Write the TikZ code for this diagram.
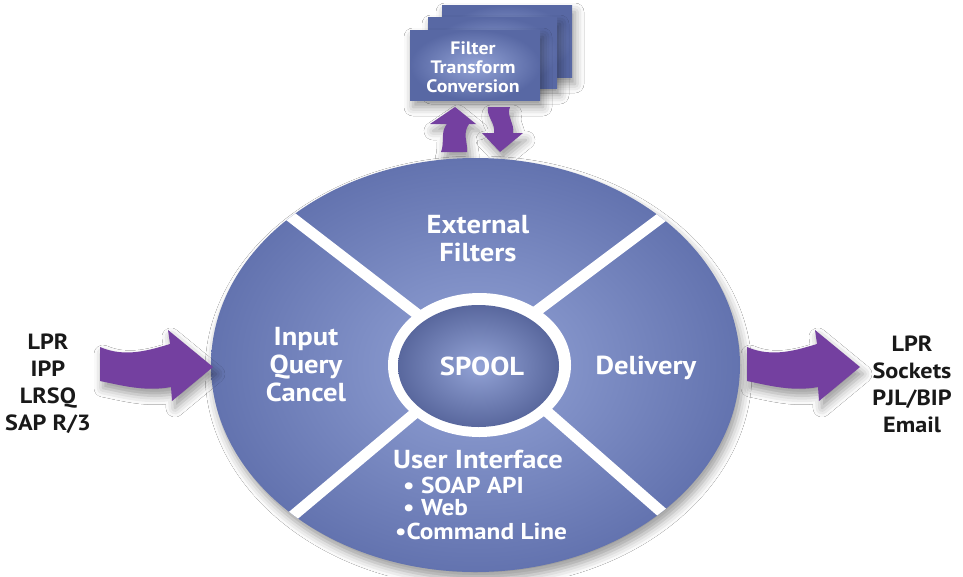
\documentclass[tikz,border=0pt]{standalone}
\usepackage{fontspec}
\setmainfont{PT Sans}[FakeStretch=1.1]
\usetikzlibrary{shadows.blur}
\definecolor{spoollight}{HTML}{93A3D6}
\definecolor{spooldark}{HTML}{6373AF}
\definecolor{boxdark}{HTML}{5868A4}
\definecolor{arrowpurple}{HTML}{7440A0}
\tikzset{
	wheel/.style={font=\bfseries\fontsize{26}{28}\selectfont, text=white, align=center, inner sep=0pt},
	bullet/.style={font=\bfseries\fontsize{23}{23}\selectfont, text=white, anchor=west, inner sep=0pt},
	proto/.style={font=\bfseries\fontsize{22}{27}\selectfont, text=black!90, align=center, inner sep=0pt},
	boxtext/.style={font=\bfseries\fontsize{18}{19}\selectfont, text=white, align=center, inner sep=0pt},
	spoke/.style={line width=11pt, draw=white},
	softshadow/.style={blur shadow={shadow xshift=3pt, shadow yshift=-7pt, shadow blur radius=9pt, shadow opacity=40}},
	filterbox/.style={inner color=spoollight, outer color=boxdark, softshadow},
}
\def\fatarrow(#1){\fill[arrowpurple, softshadow, shift={(#1,0)}] (100,347) .. controls (125,358) and (150,350) .. (170,344) -- (168,330) -- (213,367) -- (172,401) -- (171,387) .. controls (145,392) and (120,385) .. (100,381) -- cycle;}

\begin{document}
\begin{tikzpicture}[x=1pt, y=-1pt]
		%%%%% START %%%%%
		\useasboundingbox[fill=white] (0,0) rectangle (963,576);
		
		% filter stack
		\shade[filterbox] (442,5) rectangle (572,77);
		\shade[filterbox] (428,17) rectangle (557,88);
		\shade[filterbox] (410,30) rectangle (540,100);
		\node[boxtext] (filt) at (473,67) {Filter\\Transform\\Conversion};
		
		\fill[arrowpurple, softshadow] (455,107) -- (476,124) -- (469,124) .. controls (462,134) and (468,142) .. (467,152) -- (441,152) .. controls (445,142) and (440,132) .. (447,124) -- (430,124) -- cycle;
		\fill[arrowpurple, softshadow] (488,107) -- (510,107) .. controls (506,116) and (515,124) .. (513,133) -- (523,133) -- (500,152) -- (482,133) -- (494,133) .. controls (496,124) and (486,116) .. (488,107) -- cycle;
		
		% wheel
		\shade[inner color=spoollight, outer color=spooldark, softshadow] (475.5,365) ellipse [x radius=264.5pt, y radius=207pt];
		\begin{scope}
			\clip (475.5,365) ellipse [x radius=264.5pt, y radius=207pt];
			\draw[spoke] (260,193) -- (430,324);
			\draw[spoke] (690,196) -- (530,316);
			\draw[spoke] (270,535) -- (440,392);
			\draw[spoke] (690,537) -- (520,388);
		\end{scope}
		\fill[white] (479.5,365) ellipse [x radius=91.5pt, y radius=72pt];
		\shade[inner color=spoollight, outer color=spooldark!90!black] (478.5,366) ellipse [x radius=80.5pt, y radius=61pt];
		
		\node[wheel] (spool) at (482,366) {SPOOL};
		\node[wheel] (ext) at (478,239) {External\\Filters};
		\node[wheel] (input) at (306,365) {Input\\Query\\Cancel};
		\node[wheel] (deliv) at (646,368) {Delivery};
		\node[wheel] (ui) at (478,459) {User Interface};
		\node[bullet] (soap) at (403,485) {• SOAP API};
		\node[bullet] (web) at (403,508) {• Web};
		\node[bullet] (cmdline) at (395,531) {•Command Line};
		
		% in and out
		\fatarrow(0);
		\fatarrow(647);
		\node[proto] (inlist) at (48,384) {LPR\\IPP\\LRSQ\\SAP R/3};
		\node[proto] (outlist) at (912,384) {LPR\\Sockets\\PJL/BIP\\Email};
		
		%%%%% END %%%%%
\end{tikzpicture}
\end{document}
